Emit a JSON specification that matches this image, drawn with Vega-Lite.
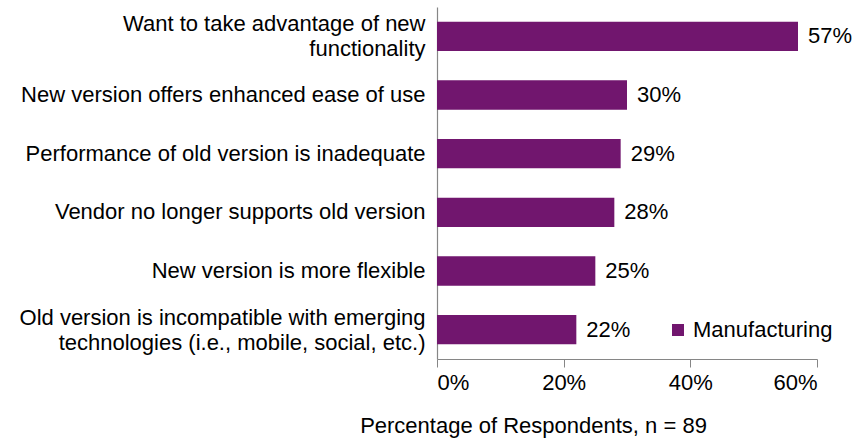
{
  "$schema": "https://vega.github.io/schema/vega-lite/v6.json",
  "width": 380,
  "height": 352,
  "autosize": {"type": "none"},
  "padding": {"left": 437, "top": 7, "right": 48, "bottom": 82},
  "background": "white",
  "config": {
    "font": "Liberation Sans",
    "view": {"stroke": null}
  },
  "data": {
    "values": [
      {"reason": "Want to take advantage of new|functionality", "value": 0.57, "order": 1, "series": "Manufacturing"},
      {"reason": "New version offers enhanced ease of use", "value": 0.30, "order": 2, "series": "Manufacturing"},
      {"reason": "Performance of old version is inadequate", "value": 0.29, "order": 3, "series": "Manufacturing"},
      {"reason": "Vendor no longer supports old version", "value": 0.28, "order": 4, "series": "Manufacturing"},
      {"reason": "New version is more flexible", "value": 0.25, "order": 5, "series": "Manufacturing"},
      {"reason": "Old version is incompatible with emerging|technologies (i.e., mobile, social, etc.)", "value": 0.22, "order": 6, "series": "Manufacturing"}
    ]
  },
  "encoding": {
    "y": {
      "field": "reason",
      "type": "nominal",
      "sort": {"field": "order", "order": "ascending"},
      "scale": {"paddingInner": 0.5, "paddingOuter": 0.25},
      "axis": {
        "title": null,
        "labelExpr": "split(datum.label, '|')",
        "labelFontSize": 22,
        "labelColor": "#000000",
        "labelLineHeight": 25,
        "labelPadding": 12,
        "labelLimit": 430,
        "labelOffset": {"condition": {"test": "indexof(datum.value, '|') >= 0", "value": -12}, "value": 0},
        "ticks": false,
        "domainColor": "#868686",
        "domainWidth": 1.2
      }
    },
    "x": {
      "field": "value",
      "type": "quantitative",
      "scale": {"domain": [0, 0.6], "nice": false},
      "axis": {
        "values": [0, 0.2, 0.4, 0.6],
        "format": ".0%",
        "grid": false,
        "title": "Percentage of Respondents, n = 89",
        "titleFontSize": 22,
        "titleFontWeight": "normal",
        "titleColor": "#000000",
        "titleX": 96,
        "titleY": 66,
        "titleAnchor": null,
        "titleAlign": "center",
        "titleBaseline": "middle",
        "labelFontSize": 22,
        "labelColor": "#000000",
        "labelPadding": 5,
        "tickSize": 8,
        "tickColor": "#868686",
        "domainColor": "#868686",
        "domainWidth": 1.2
      }
    }
  },
  "layer": [
    {
      "mark": {"type": "bar"},
      "encoding": {
        "color": {
          "field": "series",
          "type": "nominal",
          "scale": {"range": ["#71166E"]},
          "legend": {
            "title": null,
            "orient": "none",
            "legendX": 230,
            "legendY": 312,
            "symbolType": "square",
            "symbolSize": 144,
            "symbolStrokeWidth": 0,
            "labelFontSize": 22,
            "labelColor": "#000000",
            "labelOffset": 4
          }
        }
      }
    },
    {
      "mark": {"type": "text", "align": "left", "baseline": "middle", "dx": 10, "fontSize": 22, "color": "#000000"},
      "encoding": {
        "text": {"field": "value", "type": "quantitative", "format": ".0%"}
      }
    }
  ]
}
